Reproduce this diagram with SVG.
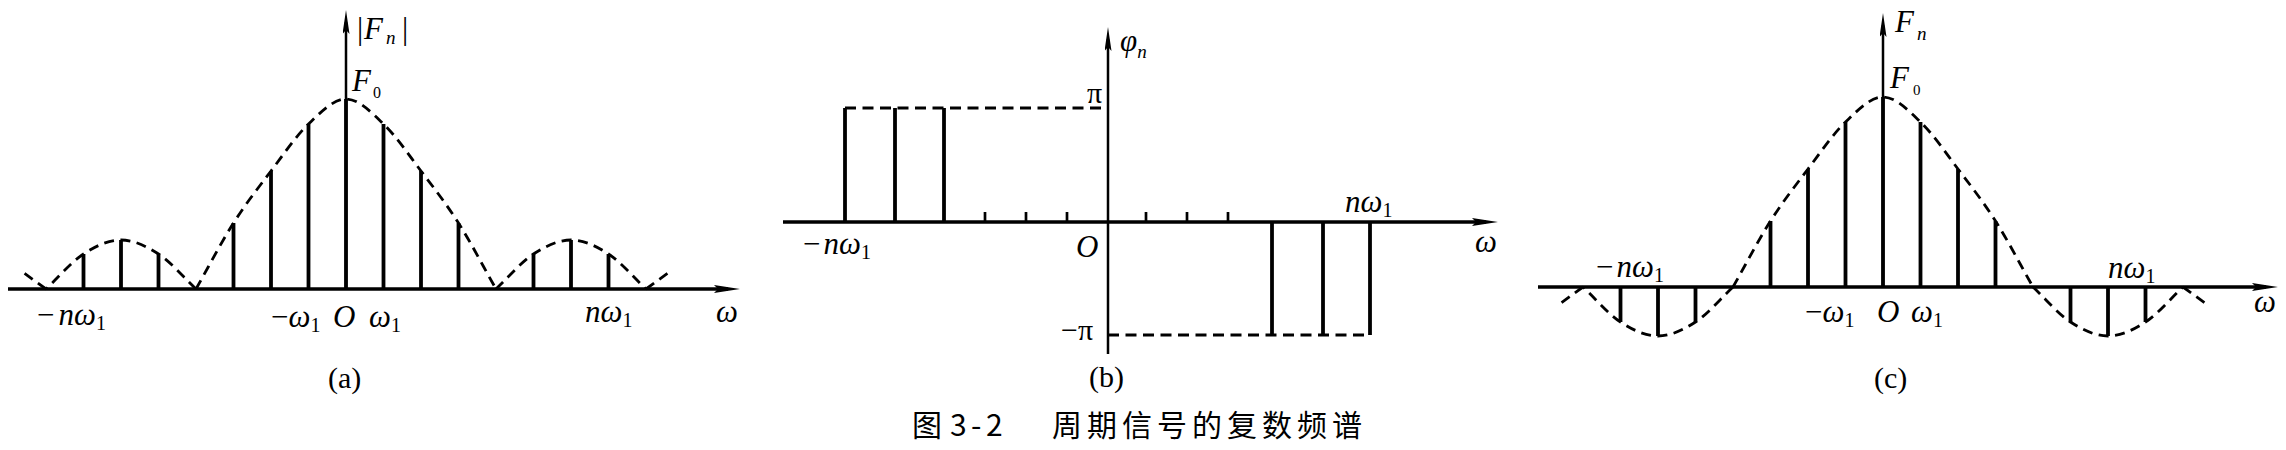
<svg xmlns="http://www.w3.org/2000/svg" width="2286" height="450" viewBox="0 0 2286 450">
<style>
.axis{stroke:#000;stroke-width:3.3;fill:none}
.vaxis{stroke:#000;stroke-width:2.5;fill:none}
.stick{stroke:#000;stroke-width:3.8;fill:none}
.tick{stroke:#000;stroke-width:2.7;fill:none}
.env{stroke:#000;stroke-width:2.8;fill:none;stroke-dasharray:10 6.5}
.hd{stroke:#000;stroke-width:2.8;fill:none;stroke-dasharray:11 6.5}
.m{font-family:"Liberation Serif","Times New Roman",serif;font-style:italic;font-size:31px;fill:#000}
.u{font-style:normal}
.sub{font-style:normal;font-size:20px}
.subi{font-style:italic;font-size:19px}
.lab{font-family:"Liberation Serif","Times New Roman",serif;font-size:30px;fill:#000}
.cap{font-family:"Noto Sans CJK SC","Liberation Sans",sans-serif;font-size:30px;fill:#000}
</style>
<defs>
<marker id="ah" viewBox="0 0 26 9" markerWidth="26" markerHeight="9" refX="14" refY="4.5" orient="auto" markerUnits="userSpaceOnUse">
<path d="M0,0.5 L26,4.5 L0,8.5 L4,4.5 Z" fill="#000"/>
</marker>
<marker id="ahv" viewBox="0 0 24 7" markerWidth="24" markerHeight="7" refX="12" refY="3.5" orient="auto" markerUnits="userSpaceOnUse">
<path d="M0,0 L24,3.5 L0,7 L4,3.5 Z" fill="#000"/>
</marker>
<path id="mainlobe" d="M-150,0 C-137.5,-22 -125,-46.33 -112.5,-66 C-100,-85.67 -87.5,-101.5 -75,-118 C-62.5,-134.5 -50,-153 -37.5,-165 C-25,-177 -12.5,-190 0,-190 C12.5,-190 25,-177 37.5,-165 C50,-153 62.5,-134.5 75,-118 C87.5,-101.5 100,-85.67 112.5,-66 C125,-46.33 137.5,-22 150,0"/>
<path id="sidelobe" d="M150,0 C162.5,-11.67 175,-26.83 187.5,-35 C200,-43.17 212.5,-49 225,-49 C237.5,-49 250,-43.17 262.5,-35 C275,-26.83 287.5,-11.67 300,0 M300,0 L322,-16"/>
</defs>

<g id="panel-a">
<g id="a-axes">
<line class="axis" x1="8" y1="289" x2="728" y2="289" marker-end="url(#ah)"/>
<line class="vaxis" x1="346" y1="289" x2="346" y2="22" marker-end="url(#ahv)"/>
</g>
<g id="a-envelope" transform="translate(346,289)">
<use href="#mainlobe" class="env"/>
<use href="#sidelobe" class="env"/>
<use href="#sidelobe" class="env" transform="scale(-1,1)"/>
</g>
<g id="a-lines">
<line class="stick" x1="83.5" y1="289" x2="83.5" y2="254"/>
<line class="stick" x1="121" y1="289" x2="121" y2="240"/>
<line class="stick" x1="158.5" y1="289" x2="158.5" y2="254"/>
<line class="stick" x1="233.5" y1="289" x2="233.5" y2="223"/>
<line class="stick" x1="271" y1="289" x2="271" y2="171"/>
<line class="stick" x1="308.5" y1="289" x2="308.5" y2="124"/>
<line class="stick" x1="346" y1="289" x2="346" y2="99"/>
<line class="stick" x1="383.5" y1="289" x2="383.5" y2="124"/>
<line class="stick" x1="421" y1="289" x2="421" y2="171"/>
<line class="stick" x1="458.5" y1="289" x2="458.5" y2="223"/>
<line class="stick" x1="533.5" y1="289" x2="533.5" y2="254"/>
<line class="stick" x1="571" y1="289" x2="571" y2="240"/>
<line class="stick" x1="608.5" y1="289" x2="608.5" y2="254"/>
</g>
<g id="a-labels">
<text class="m" font-size="29" y="39"><tspan class="u" x="357">|</tspan><tspan x="364">F</tspan><tspan class="subi" x="386" y="44">n</tspan><tspan class="u" x="402" y="39">|</tspan></text>
<text class="m" y="91"><tspan x="352">F</tspan><tspan class="u" font-size="16" x="373" y="98">0</tspan></text>
<text class="m" x="37" y="325"><tspan class="u">−</tspan><tspan dx="4">nω</tspan><tspan class="sub" dy="5">1</tspan></text>
<text class="m" x="271" y="327"><tspan class="u">−</tspan>ω<tspan class="sub" dy="5">1</tspan></text>
<text class="m" x="333" y="327">O</text>
<text class="m" x="369" y="327">ω<tspan class="sub" dy="5">1</tspan></text>
<text class="m" x="585" y="322">nω<tspan class="sub" dy="5">1</tspan></text>
<text class="m" x="716" y="322">ω</text>
<text class="lab" x="328" y="388">(a)</text>
</g>
</g>

<g id="panel-b">
<g id="b-axes">
<line class="axis" x1="783" y1="222" x2="1486" y2="222" marker-end="url(#ah)"/>
<line class="vaxis" x1="1108" y1="354" x2="1108" y2="39" marker-end="url(#ahv)"/>
</g>
<g id="b-lines">
<line class="stick" x1="845" y1="222" x2="845" y2="108"/>
<line class="stick" x1="895" y1="222" x2="895" y2="108"/>
<line class="stick" x1="944" y1="222" x2="944" y2="108"/>
<path class="hd" d="M845,108 H1108"/>
<line class="tick" x1="985" y1="222" x2="985" y2="212"/>
<line class="tick" x1="1026" y1="222" x2="1026" y2="212"/>
<line class="tick" x1="1067" y1="222" x2="1067" y2="212"/>
<line class="tick" x1="1146" y1="222" x2="1146" y2="212"/>
<line class="tick" x1="1187" y1="222" x2="1187" y2="212"/>
<line class="tick" x1="1228" y1="222" x2="1228" y2="212"/>
<line class="stick" x1="1272" y1="222" x2="1272" y2="335"/>
<line class="stick" x1="1323" y1="222" x2="1323" y2="335"/>
<line class="stick" x1="1370" y1="222" x2="1370" y2="335"/>
<path class="hd" d="M1108,335 H1370"/>
</g>
<g id="b-labels">
<text class="m" font-size="28" x="1120" y="51">φ<tspan class="subi" font-size="18" dy="7">n</tspan></text>
<text class="lab" font-size="29" x="1087" y="103">π</text>
<text class="lab" font-size="29" x="1061" y="340">−π</text>
<text class="m" x="1076" y="257">O</text>
<text class="m" x="803" y="254"><tspan class="u">−</tspan><tspan dx="3">nω</tspan><tspan class="sub" dy="5">1</tspan></text>
<text class="m" x="1345" y="212">nω<tspan class="sub" dy="5">1</tspan></text>
<text class="m" x="1475" y="252">ω</text>
<text class="lab" x="1089" y="387">(b)</text>
</g>
</g>

<g id="panel-c">
<g id="c-axes">
<line class="axis" x1="1538" y1="287" x2="2266" y2="287" marker-end="url(#ah)"/>
<line class="vaxis" x1="1883" y1="287" x2="1883" y2="25" marker-end="url(#ahv)"/>
</g>
<g id="c-envelope" transform="translate(1883,287)">
<use href="#mainlobe" class="env"/>
<use href="#sidelobe" class="env" transform="scale(1,-1)"/>
<use href="#sidelobe" class="env" transform="scale(-1,-1)"/>
</g>
<g id="c-lines">
<line class="stick" x1="1620.5" y1="287" x2="1620.5" y2="322"/>
<line class="stick" x1="1658" y1="287" x2="1658" y2="336"/>
<line class="stick" x1="1695.5" y1="287" x2="1695.5" y2="322"/>
<line class="stick" x1="1770.5" y1="287" x2="1770.5" y2="221"/>
<line class="stick" x1="1808" y1="287" x2="1808" y2="169"/>
<line class="stick" x1="1845.5" y1="287" x2="1845.5" y2="122"/>
<line class="stick" x1="1883" y1="287" x2="1883" y2="97"/>
<line class="stick" x1="1920.5" y1="287" x2="1920.5" y2="122"/>
<line class="stick" x1="1958" y1="287" x2="1958" y2="169"/>
<line class="stick" x1="1995.5" y1="287" x2="1995.5" y2="221"/>
<line class="stick" x1="2070.5" y1="287" x2="2070.5" y2="322"/>
<line class="stick" x1="2108" y1="287" x2="2108" y2="336"/>
<line class="stick" x1="2145.5" y1="287" x2="2145.5" y2="322"/>
</g>
<g id="c-labels">
<text class="m" font-size="29" y="32"><tspan x="1895">F</tspan><tspan class="subi" x="1917" y="40">n</tspan></text>
<text class="m" font-size="29" y="88"><tspan x="1890">F</tspan><tspan class="u" font-size="15" x="1913" y="95">0</tspan></text>
<text class="m" x="1596" y="277"><tspan class="u">−</tspan><tspan dx="3">nω</tspan><tspan class="sub" dy="5">1</tspan></text>
<text class="m" x="1805" y="322"><tspan class="u">−</tspan>ω<tspan class="sub" dy="5">1</tspan></text>
<text class="m" x="1877" y="322">O</text>
<text class="m" x="1911" y="322">ω<tspan class="sub" dy="5">1</tspan></text>
<text class="m" x="2108" y="278">nω<tspan class="sub" dy="5">1</tspan></text>
<text class="m" x="2254" y="312">ω</text>
<text class="lab" x="1874" y="388">(c)</text>
</g>
</g>

<g id="caption">
<text class="cap" y="436"><tspan x="912">图</tspan><tspan x="950">3</tspan><tspan x="971">-</tspan><tspan x="986">2</tspan><tspan x="1052" letter-spacing="5">周期信号的复数频谱</tspan></text>
</g>
</svg>
